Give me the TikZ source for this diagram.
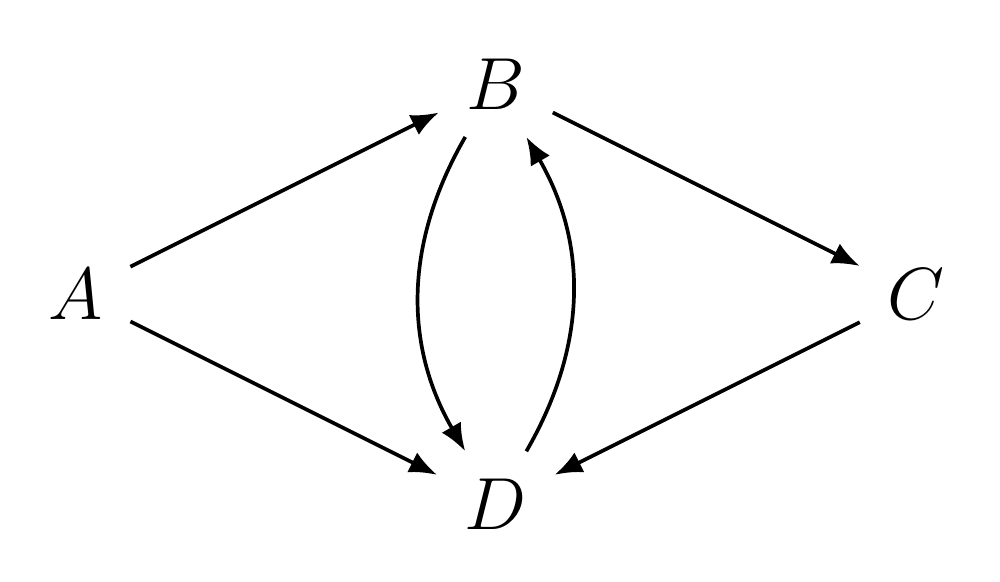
\documentclass[tikz,border=0pt]{standalone}
\usetikzlibrary{arrows.meta}
\begin{document}
\begin{tikzpicture}[
    x = 1.2cm,
    y = 1.2cm,
    scale=1,
    >={Latex[length=4.5pt,width=3.6pt]},
    vertex/.style = {inner sep=4.3pt, font=\large},
    ]

\useasboundingbox (-0.36,-1.37) rectangle (4.4,1.4);
\node[vertex] (vert_A) at (0,0) {$A$};
\node[vertex] (vert_B) at (2,1) {$B$};
\node[vertex] (vert_C) at (4,0) {$C$};
\node[vertex] (vert_D) at (2,-1) {$D$};
\draw [black, semithick, ->] (vert_A) -- (vert_B);
\draw [black, semithick, ->] (vert_A) -- (vert_D);
\draw [black, semithick, ->] (vert_B) -- (vert_C);
\draw [black, semithick, ->] (vert_C) -- (vert_D);
\draw [black, semithick, ->] (vert_B) to[bend right=30] (vert_D);
\draw [black, semithick, ->] (vert_D) to[bend right=30] (vert_B);

\end{tikzpicture}
\end{document}
